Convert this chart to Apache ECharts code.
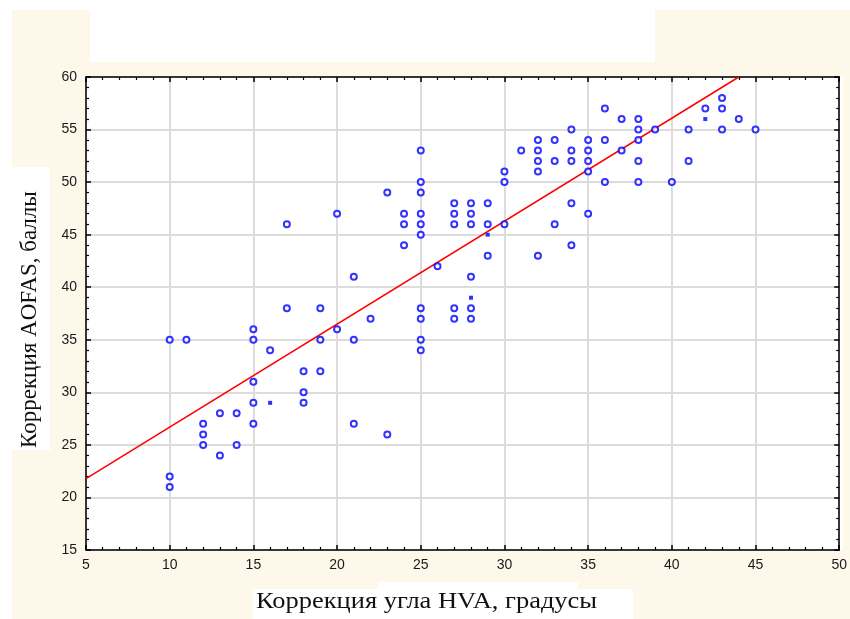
<!DOCTYPE html>
<html>
<head>
<meta charset="utf-8">
<script src="https://cdn.jsdelivr.net/npm/echarts@6/dist/echarts.min.js"></script>
<style>
html,body{margin:0;padding:0;background:#ffffff;}
#chart{width:850px;height:619px;}
</style>
</head>
<body>
<div id="chart"></div>
<script>
// Data
var hvaCorrection = [10,10,10,11,12,12,12,13,13,14,14,15,15,15,15,15,16,17,17,18,18,18,19,19,19,20,20,21,21,21,22,23,23,24,24,24,
  25,25,25,25,25,25,25,25,25,25,26,27,27,27,27,27,28,28,28,28,28,28,29,29,29,30,30,30,31,32,32,32,32,32,33,33,33,
  34,34,34,34,34,35,35,35,35,35,36,36,36,37,37,38,38,38,38,38,39,40,41,41,42,43,43,43,44,45];
var aofasCorrection = [35,22,21,35,27,26,25,28,24,28,25,36,35,31,29,27,34,46,38,32,30,29,38,35,32,47,36,41,35,27,37,49,26,47,46,44,
  53,50,49,47,46,45,38,37,35,34,42,48,47,46,38,37,48,47,46,41,38,37,48,46,43,51,50,46,53,54,53,52,51,43,54,52,46,
  55,53,52,48,44,54,53,52,51,47,57,54,50,56,53,56,55,54,52,50,55,50,55,52,57,58,57,55,56,55];
// Points drawn as small filled marks in the reference
var hvaFilled = [16,28,29,42];
var aofasFilled = [29,39,45,56];
// Regression line end points
var lineHva = [5,44];
var lineAofas = [21.8,60];
var xTicks = [5,10,15,20,25,30,35,40,45,50];
var yTicks = [15,20,25,30,35,40,45,50,55,60];

function zip(a,b){var r=[];for(var i=0;i<a.length;i++){r.push([a[i],b[i]]);}return r;}

var cream = '#fdf8ea';
var chart = echarts.init(document.getElementById('chart'), null, {renderer:'canvas'});
var labelStyle = {color:'#1a1a1a', fontSize:14, fontFamily:'Liberation Sans, Arial, sans-serif'};
var axisLine = {show:true, onZero:false, lineStyle:{color:'#000', width:1.5}};
var tickStyle = {show:true, inside:true, length:5, lineStyle:{color:'#000', width:1.5}};
var minorTick = {show:true, splitNumber:5, length:3, lineStyle:{color:'#000', width:1.2}};

var option = {
  backgroundColor:'#ffffff',
  animation:false,
  graphic:[
    {type:'rect', z:-10, shape:{x:12,y:10,width:838,height:609}, style:{fill:cream}},
    {type:'rect', z:-9, shape:{x:90,y:10,width:565,height:52}, style:{fill:'#ffffff'}},
    {type:'rect', z:-9, shape:{x:12,y:167,width:38,height:283}, style:{fill:'#ffffff'}},
    {type:'rect', z:-9, shape:{x:253,y:589,width:380,height:30}, style:{fill:'#ffffff'}},
    {type:'rect', z:-9, shape:{x:378,y:582,width:200,height:8}, style:{fill:'#ffffff'}},
    {type:'rect', z:-8, shape:{x:86,y:77,width:757,height:473}, style:{fill:'#ffffff'}},
    {type:'text', x:256, y:590, scaleX:1.15, scaleY:1,
      style:{text:'Коррекция угла HVA, градусы', fill:'#111', font:'23px "Liberation Serif", "Times New Roman", serif'}},
    {type:'text', x:18, y:448, rotation:Math.PI/2, originX:0, originY:0,
      style:{text:'Коррекция AOFAS, баллы', fill:'#111', font:'23px "Liberation Serif", "Times New Roman", serif'}}
  ],
  grid:{left:86, right:7, top:77, bottom:69, containLabel:false},
  xAxis:[
    {type:'value', min:xTicks[0], max:xTicks[xTicks.length-1], interval:5, position:'bottom',
      axisLine:axisLine, axisTick:tickStyle, minorTick:minorTick,
      axisLabel:Object.assign({margin:8, showMinLabel:true, showMaxLabel:true}, labelStyle),
      splitLine:{show:true, lineStyle:{color:'#dcdcdc', width:2}}},
    {type:'value', min:xTicks[0], max:xTicks[xTicks.length-1], interval:5, position:'top',
      axisLine:axisLine, axisTick:tickStyle, minorTick:minorTick,
      axisLabel:{show:false}, splitLine:{show:false}}
  ],
  yAxis:[
    {type:'value', min:yTicks[0], max:yTicks[yTicks.length-1], interval:5, position:'left',
      axisLine:axisLine, axisTick:tickStyle, minorTick:minorTick,
      axisLabel:Object.assign({margin:9, showMinLabel:true, showMaxLabel:true}, labelStyle),
      splitLine:{show:true, lineStyle:{color:'#dcdcdc', width:2}}},
    {type:'value', min:yTicks[0], max:yTicks[yTicks.length-1], interval:5, position:'right',
      axisLine:axisLine, axisTick:tickStyle, minorTick:minorTick,
      axisLabel:{show:false}, splitLine:{show:false}}
  ],
  series:[
    {type:'line', data:zip(lineHva,lineAofas), showSymbol:false, symbol:'none', clip:true,
      lineStyle:{color:'#ff0000', width:1.5}, z:3},
    {type:'scatter', data:zip(hvaCorrection,aofasCorrection), symbol:'emptyCircle', symbolSize:6,
      itemStyle:{color:'#0000ff', borderColor:'#0000ff', borderWidth:1.5}, z:4},
    {type:'scatter', data:zip(hvaFilled,aofasFilled), symbol:'rect', symbolSize:4,
      itemStyle:{color:'#0000ff'}, z:4}
  ]
};
chart.setOption(option);
</script>
</body>
</html>
